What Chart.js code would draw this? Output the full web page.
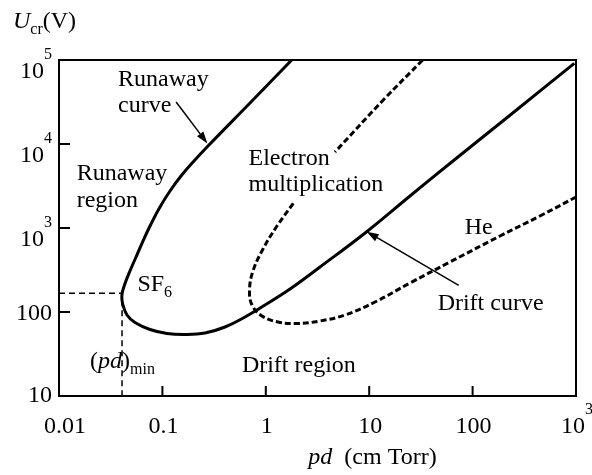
<!DOCTYPE html>
<html>
<head>
<meta charset="utf-8">
<script src="https://cdn.jsdelivr.net/npm/chart.js@4.4.1/dist/chart.umd.min.js"></script>
<style>
  html, body { margin: 0; padding: 0; background: #fff; }
  canvas { display: block; }
</style>
</head>
<body>
<canvas id="breakdownChart" width="592" height="475"></canvas>
<script>
// SF6 critical voltage: runaway branch going down to (pd)min, then drift branch
const sf6Pd = [1.781, 0.7035, 0.2761, 0.2021, 0.1513, 0.1184, 0.0948, 0.0776, 0.0649, 0.0556, 0.0481, 0.0430, 0.0407, 0.0411, 0.0455, 0.0543, 0.0759, 0.1108, 0.1654, 0.2582, 0.4031, 0.6292, 0.9824, 1.714, 3.344, 9.459, 24.8, 64.6, 251.4, 963];
const sf6U = [100000, 30770, 9467, 6275, 4159, 2757, 1778, 1116, 700, 451.6, 299.5, 209.6, 163.8, 128.0, 92.1, 75.0, 61.9, 55.5, 54.0, 56.2, 66.3, 87.2, 121.2, 187.8, 343.3, 903.6, 2404, 6275, 24040, 91350];

// He curve (dashed); the null leaves room for the "Electron multiplication" label
const hePd = [32.91, 13.69, 4.669, 3.0, 1.845, 1.283, 0.9395, 0.7519, 0.6959, 0.7357, 0.9188, 1.312, 2.048, 3.344, 5.834, 11.38, 24.81, 60.44, 184.1, 448.5, 1000];
const heU = [100000, 33400, 8029, null, 1968, 1056, 562.3, 307.7, 182.8, 121.2, 89.6, 76.0, 73.0, 78.2, 92.1, 131.5, 221.4, 393.8, 803, 1390, 2339];

// minimum of the SF6 curve
const minPd = 0.0407;
const minU = 167;

const xTicks = [0.01, 0.1, 1, 10, 100, 1000];
const xTickLabels = ['0.01', '0.1', '1', '10', '100', '10^3'];
const yTicks = [10, 100, 1000, 10000, 100000];
const yTickLabels = ['10', '100', '10^3', '10^4', '10^5'];

const SERIF = '"Liberation Serif", "DejaVu Serif", serif';

function font(size, italic) {
    return (italic ? 'italic ' : '') + size + 'px ' + SERIF;
}

// parts are [text, kind] with kind '', 'i', 'sub' or 'sup'
function partStyle(kind) {
    if (kind === 'sub') return { size: 16, dy: 6, it: false };
    if (kind === 'sup') return { size: 16, dy: -19, it: false };
    return { size: 24, dy: 0, it: kind === 'i' };
}

function richWidth(ctx, parts) {
    let w = 0;
    for (const [text, kind] of parts) {
        const s = partStyle(kind);
        ctx.font = font(s.size, s.it);
        w += ctx.measureText(text).width;
    }
    return w;
}

function drawRich(ctx, x, y, parts) {
    let cx = x;
    for (const [text, kind] of parts) {
        const s = partStyle(kind);
        ctx.font = font(s.size, s.it);
        ctx.fillText(text, cx, y + s.dy);
        cx += ctx.measureText(text).width;
    }
}

function tickParts(label) {
    const bits = label.split('^');
    return bits.length === 2 ? [[bits[0], ''], [bits[1], 'sup']] : [[label, '']];
}

function drawArrow(ctx, x0, y0, x1, y1) {
    const ang = Math.atan2(y1 - y0, x1 - x0);
    const len = 12, half = 4;
    const c = Math.cos(ang), s = Math.sin(ang);
    ctx.lineWidth = 1.5;
    ctx.beginPath();
    ctx.moveTo(x0, y0);
    ctx.lineTo(x1 - len * c, y1 - len * s);
    ctx.stroke();
    ctx.beginPath();
    ctx.moveTo(x1, y1);
    ctx.lineTo(x1 - len * c - half * s, y1 - len * s + half * c);
    ctx.lineTo(x1 - len * c + half * s, y1 - len * s - half * c);
    ctx.closePath();
    ctx.fill();
}

// text labels anchored in (pd, U) coordinates: left end of the baseline
const notes = [
    { pd: 0.0373, u: 48980, parts: [['Runaway', '']] },
    { pd: 0.0373, u: 24340, parts: [['curve', '']] },
    { pd: 0.01483, u: 3712, parts: [['Runaway', '']] },
    { pd: 0.01483, u: 1794, parts: [['region', '']] },
    { pd: 0.0573, u: 176, parts: [['SF', ''], ['6', 'sub']] },
    { pd: 0.680, u: 5603, parts: [['Electron', '']] },
    { pd: 0.680, u: 2768, parts: [['multiplication', '']] },
    { pd: 83.9, u: 860, parts: [['He', '']] },
    { pd: 45.9, u: 106.8, parts: [['Drift curve', '']] },
    { pd: 0.01995, u: 21.3, parts: [['(', ''], ['pd', 'i'], [')', ''], ['min', 'sub']] },
    { pd: 0.587, u: 19.3, parts: [['Drift region', '']] }
];

// arrows from label to curve: [tailPd, tailU, tipPd, tipU]
const arrows = [
    [0.1357, 31580, 0.2726, 10160],
    [73.4, 208, 9.46, 904]
];

const framePlugin = {
    id: 'frame',
    afterDatasetsDraw(chart) {
        const ctx = chart.ctx;
        const area = chart.chartArea;
        const xs = chart.scales.x;
        const ys = chart.scales.y;
        ctx.save();
        ctx.fillStyle = '#000';
        ctx.strokeStyle = '#000';

        // box
        ctx.lineWidth = 2;
        ctx.strokeRect(area.left, area.top, area.right - area.left, area.bottom - area.top);

        // inward tick marks
        ctx.beginPath();
        xTicks.forEach(v => {
            const px = xs.getPixelForValue(v);
            ctx.moveTo(px, area.bottom);
            ctx.lineTo(px, area.bottom - 10);
        });
        yTicks.forEach(v => {
            const py = ys.getPixelForValue(v);
            ctx.moveTo(area.left, py);
            ctx.lineTo(area.left + 11, py);
        });
        ctx.stroke();

        // tick labels
        ctx.textBaseline = 'alphabetic';
        ctx.textAlign = 'left';
        xTicks.forEach((v, i) => {
            const parts = tickParts(xTickLabels[i]);
            const w = richWidth(ctx, parts);
            const shift = i === 0 ? 6 : 1;
            drawRich(ctx, xs.getPixelForValue(v) + shift - w / 2, area.bottom + 37, parts);
        });
        yTicks.forEach((v, i) => {
            const parts = tickParts(yTickLabels[i]);
            const w = richWidth(ctx, parts);
            const py = ys.getPixelForValue(v);
            const dy = parts.length === 2 ? 18 : (i === 0 ? 6 : 8);
            drawRich(ctx, 52 - w, py + dy, parts);
        });

        // axis titles
        drawRich(ctx, 13, 28, [['U', 'i'], ['cr', 'sub'], ['(V)', '']]);
        const xTitle = [['pd', 'i'], ['  (cm Torr)', '']];
        drawRich(ctx, (area.left + area.right) / 2 + 55 - richWidth(ctx, xTitle) / 2, 464, xTitle);

        // curve and region labels
        notes.forEach(n => {
            drawRich(ctx, xs.getPixelForValue(n.pd), ys.getPixelForValue(n.u), n.parts);
        });

        arrows.forEach(a => {
            drawArrow(ctx,
                xs.getPixelForValue(a[0]), ys.getPixelForValue(a[1]),
                xs.getPixelForValue(a[2]), ys.getPixelForValue(a[3]));
        });
        ctx.restore();
    }
};

const toPoints = (xs, ys) => xs.map((x, i) => ({ x: x, y: ys[i] }));

const ctxBreakdown = document.getElementById('breakdownChart');
new Chart(ctxBreakdown, {
    type: 'line',
    data: {
        datasets: [
            {
                label: 'SF6',
                data: toPoints(sf6Pd, sf6U),
                borderColor: '#000',
                borderWidth: 3,
                tension: 0.4,
                pointRadius: 0
            },
            {
                label: 'He',
                data: toPoints(hePd, heU),
                borderColor: '#000',
                borderWidth: 3,
                borderDash: [6, 3],
                tension: 0.4,
                pointRadius: 0,
                spanGaps: false
            },
            {
                label: '(pd)min',
                data: [{ x: xTicks[0], y: minU }, { x: minPd, y: minU }, { x: minPd, y: yTicks[0] }],
                borderColor: '#000',
                borderWidth: 1.5,
                borderDash: [6, 4],
                tension: 0,
                pointRadius: 0
            }
        ]
    },
    options: {
        responsive: false,
        animation: false,
        layout: { padding: { left: 59, top: 60, right: 16, bottom: 79 } },
        scales: {
            x: { type: 'logarithmic', min: 0.01, max: 1000, display: false },
            y: { type: 'logarithmic', min: 10, max: 100000, display: false }
        },
        plugins: {
            legend: { display: false },
            tooltip: { enabled: false }
        }
    },
    plugins: [framePlugin]
});
</script>
</body>
</html>
